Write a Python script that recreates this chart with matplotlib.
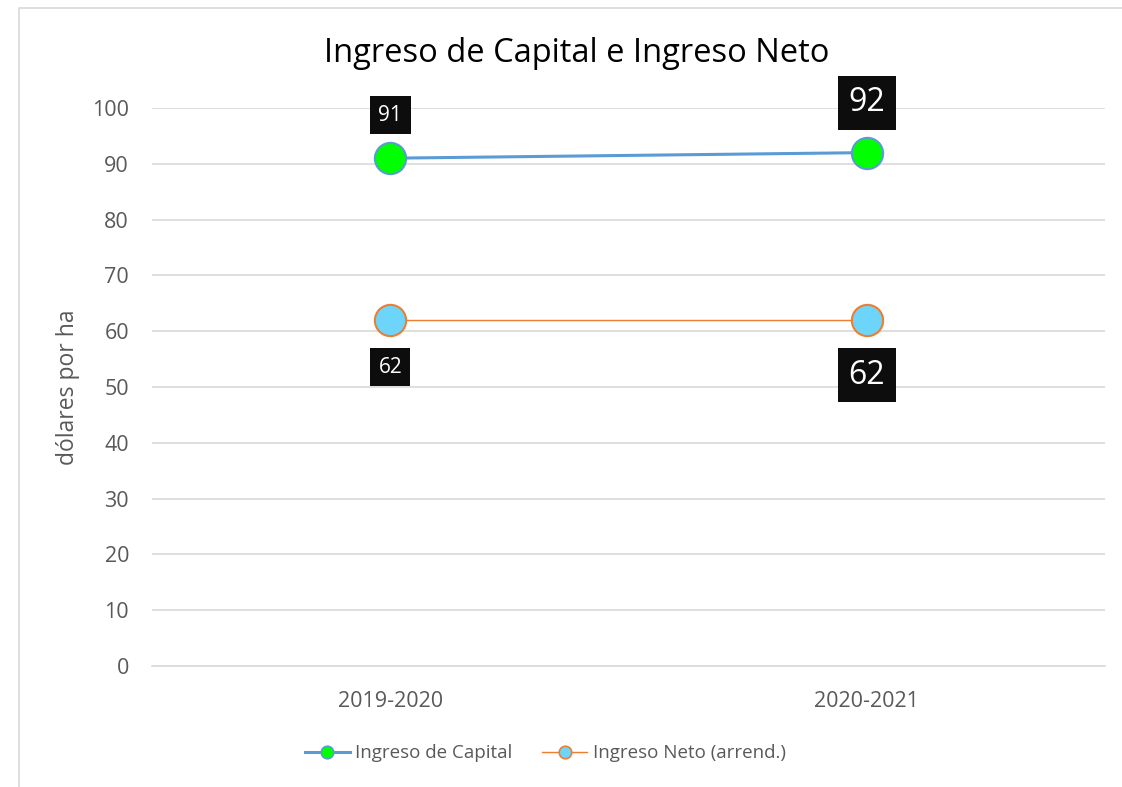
import matplotlib.pyplot as plt
from matplotlib.lines import Line2D
from matplotlib.patches import Rectangle

plt.rcParams["font.family"] = ["Open Sans", "DejaVu Sans"]

# data
periods = ["2019-2020", "2020-2021"]
capital = [91, 92]
neto = [62, 62]
label_sizes = [15, 23]
label_pads = [0.4, 0.33]

BLUE = "#5b9bd5"
ORANGE = "#ed7d31"
GREEN = "#00ff00"
CYAN = "#6dd5fa"
GRID = "#d9d9d9"
TXT = "#595959"

fig = plt.figure(figsize=(11.22, 7.87), dpi=100)
ax = fig.add_axes([0.1355, 0.1537, 0.8493, 0.7091])

# outer chart border (cropped at right/bottom like the source)
fig.patches.append(Rectangle((19 / 1122, -0.01), 1.2, 1 - 8 / 787 + 0.01,
                             transform=fig.transFigure, fill=False,
                             edgecolor=GRID, linewidth=1.2))

x = list(range(len(periods)))
ax.plot(x, capital, color=BLUE, linewidth=2.2, zorder=3)
ax.plot(x, capital, "o", markersize=22.5, markerfacecolor=GREEN,
        markeredgecolor=BLUE, markeredgewidth=1.5, zorder=4)
ax.plot(x, neto, color=ORANGE, linewidth=1.0, zorder=3)
ax.plot(x, neto, "o", markersize=22.5, markerfacecolor=CYAN,
        markeredgecolor=ORANGE, markeredgewidth=1.5, zorder=4)

# data labels
cap_offsets = [43, 50]
neto_offsets = [-47, -55]
for i in x:
    box = dict(boxstyle=f"square,pad={label_pads[i]}", facecolor="#0d0d0d",
               edgecolor="none")
    ax.annotate(f"{capital[i]}", (i, capital[i]), xytext=(0, cap_offsets[i]),
                textcoords="offset pixels", ha="center", va="center",
                color="white", fontsize=label_sizes[i], bbox=box, zorder=5)
    ax.annotate(f"{neto[i]}", (i, neto[i]), xytext=(0, neto_offsets[i]),
                textcoords="offset pixels", ha="center", va="center",
                color="white", fontsize=label_sizes[i], bbox=box, zorder=5)

ax.set_xlim(-0.5, len(periods) - 0.5)
ax.set_ylim(0, 100)
ax.set_yticks(range(0, 101, 10))
ax.set_xticks(x)
ax.set_xticklabels(periods)
ax.grid(axis="y", color=GRID, linewidth=1.2)
ax.set_axisbelow(True)
for s in ["top", "right", "left"]:
    ax.spines[s].set_visible(False)
ax.spines["bottom"].set_color(GRID)
ax.spines["bottom"].set_linewidth(1.2)
ax.tick_params(axis="both", length=0, labelsize=15.5, colors=TXT)
ax.tick_params(axis="y", pad=16.5)
ax.tick_params(axis="x", pad=18)
ax.set_ylabel("dólares por ha", fontsize=16.5, color=TXT)
ax.yaxis.set_label_coords(-0.0755, 0.5)

fig.text(0.514, 1 - 62 / 787, "Ingreso de Capital e Ingreso Neto",
         ha="center", va="baseline", fontsize=23.5, color="black")

handles = [
    Line2D([], [], color=BLUE, linewidth=2.2, marker="o", markersize=9,
           markerfacecolor=GREEN, markeredgecolor=BLUE, markeredgewidth=1.2),
    Line2D([], [], color=ORANGE, linewidth=1.0, marker="o", markersize=9,
           markerfacecolor=CYAN, markeredgecolor=ORANGE, markeredgewidth=1.2),
]
fig.legend(handles, ["Ingreso de Capital", "Ingreso Neto (arrend.)"],
           loc="center", bbox_to_anchor=(0.486, 0.043), ncol=2, frameon=False,
           fontsize=13.5, labelcolor=TXT, handlelength=2.4, handletextpad=0.3,
           columnspacing=1.6)

fig.savefig("out.png", dpi=100)
